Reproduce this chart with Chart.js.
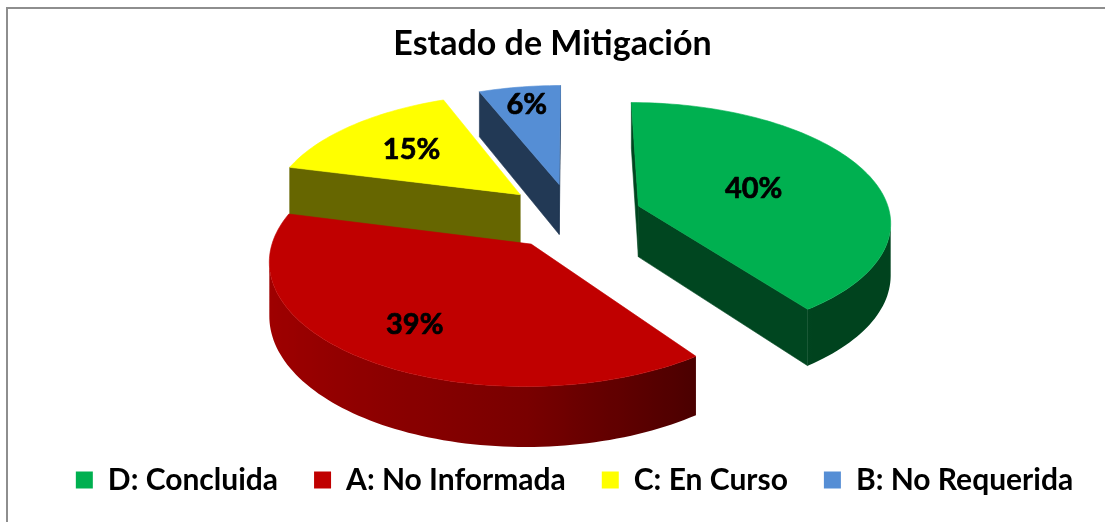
<!DOCTYPE html>
<html><head><meta charset="utf-8">
<script src="https://cdn.jsdelivr.net/npm/chart.js@4/dist/chart.umd.min.js"></script>
<style>html,body{margin:0;padding:0;background:#fff;overflow:hidden}#wrap{width:1105px;height:522px}</style>
</head><body><div id="wrap"><canvas id="c" width="1105" height="522"></canvas></div>
<script>
// ---- data ----
const categories = ['D: Concluida', 'A: No Informada', 'C: En Curso', 'B: No Requerida'];
const values = [40, 39, 15, 6];
const colors = ['#00B050', '#C00000', '#FFFF00', '#558ED5'];
const titleText = 'Estado de Mitigación';

// ---- styling ----
const FONT = 'Lato, "Open Sans", sans-serif';
const WEIGHT = 'bold';
const PIE_CX = 572, PIE_CY = 216;          // projected centre of the pie
const PIE_RX = 252, PIE_RY = 118;          // ellipse half axes (px) for radius = 1
const PIE_T = 51.5;                        // slice thickness
const PIE_PERSP = 8.33;                    // perspective distance (radius units)
const PIE_EXPLODE = 0.28;                  // explosion (radius units)
const LABEL_RADIUS = [0.5, 0.72, 0.63, 0.8];
const LEGEND_SHIFT = 22;

function shade(hex, b) {
  const n = parseInt(hex.slice(1), 16);
  const r = Math.round(((n >> 16) & 255) * b), g = Math.round(((n >> 8) & 255) * b), bl = Math.round((n & 255) * b);
  return `rgb(${r},${g},${bl})`;
}

const frame = {
  id: 'frame',
  beforeDraw(chart) {
    const c = chart.ctx;
    c.save();
    c.fillStyle = '#fff'; c.fillRect(0, 0, chart.width, chart.height);
    c.strokeStyle = '#8e8e8e'; c.lineWidth = 2;
    c.strokeRect(7, 8, chart.width + 40, chart.height + 40);
    c.restore();
    if (chart.legend && !chart.legend._shifted) {
      chart.legend.left += LEGEND_SHIFT; chart.legend.right += LEGEND_SHIFT; chart.legend._shifted = true;
    }
  },
  afterUpdate(chart) { if (chart.legend) chart.legend._shifted = false; }
};

const pie3d = {
  id: 'pie3d',
  beforeDatasetsDraw(chart) {
    const arcs = chart.getDatasetMeta(0).data;
    const ctx = chart.ctx;
    const r0 = arcs[0].outerRadius;
    const D = PIE_PERSP;
    const proj = (u, v, down) => {
      const f = D / (D - v);
      return [PIE_CX + PIE_RX * u * f, PIE_CY + PIE_RY * v * f + (down ? PIE_T * f : 0)];
    };
    const total = values.reduce((s, x) => s + x, 0);
    const slices = arcs.map((arc, i) => {
      const s = arc.startAngle, e = arc.endAngle, m = (s + e) / 2;
      const ex = PIE_EXPLODE * (arc.outerRadius / r0);
      const ox = ex * Math.cos(m), oy = ex * Math.sin(m);
      return { i, s, e, m, ox, oy, depth: oy + 0.5 * Math.sin(m) };
    });
    slices.sort((a, b) => a.depth - b.depth);

    const area = (pts) => { let s = 0; for (let j = 0; j < pts.length; j++) { const p = pts[j], q = pts[(j + 1) % pts.length]; s += p[0] * q[1] - q[0] * p[1]; } return s; };
    const path = (pts) => {
      ctx.beginPath(); ctx.moveTo(pts[0][0], pts[0][1]);
      for (let j = 1; j < pts.length; j++) ctx.lineTo(pts[j][0], pts[j][1]);
      ctx.closePath();
    };
    const poly = (pts, col) => { path(pts); ctx.fillStyle = col; ctx.fill(); ctx.strokeStyle = col; ctx.lineWidth = 0.6; ctx.stroke(); };
    const bright = (a) => {
      const nx = Math.cos(a);
      const b = nx < 0 ? 0.63 - 0.2 * nx : 0.63 - 0.41 * nx;
      return Math.max(0.38, Math.min(0.85, b));
    };

    ctx.save();
    for (const sl of slices) {
      const base = colors[sl.i];
      const n = Math.max(6, Math.ceil((sl.e - sl.s) / (Math.PI / 120)));
      const rim = [];
      for (let j = 0; j <= n; j++) { const a = sl.s + (sl.e - sl.s) * j / n; rim.push({ u: sl.ox + Math.cos(a), v: sl.oy + Math.sin(a), a }); }
      const apex = { u: sl.ox, v: sl.oy };
      const P = (p, d) => proj(p.u, p.v, d);
      // radial faces
      for (const [A, B] of [[apex, rim[0]], [rim[n], apex]]) {
        const q = [P(A, false), P(B, false), P(B, true), P(A, true)];
        if (area(q) < 0) poly(q, shade(base, 0.4));
      }
      // outer side: contiguous runs of front-facing strips, filled with one gradient
      let run = [];
      const flush = () => {
        if (run.length < 2) { run = []; return; }
        const topPts = run.map(p => P(p, false)), botPts = run.map(p => P(p, true)).reverse();
        const pts = topPts.concat(botPts);
        const xs = topPts.map(p => p[0]);
        const x0 = Math.min(...xs), x1 = Math.max(...xs);
        const g = ctx.createLinearGradient(x0, 0, x1, 0);
        run.forEach((p, j) => { const t = x1 > x0 ? (topPts[j][0] - x0) / (x1 - x0) : 0; g.addColorStop(Math.max(0, Math.min(1, t)), shade(base, bright(p.a))); });
        path(pts); ctx.fillStyle = g; ctx.fill();
        run = [];
      };
      for (let j = 0; j < n; j++) {
        const A = rim[j], B = rim[j + 1];
        const q = [P(A, false), P(B, false), P(B, true), P(A, true)];
        if (area(q) < 0) { if (!run.length) run.push(A); run.push(B); }
        else flush();
      }
      flush();
      // top face
      poly([P(apex, false)].concat(rim.map(p => P(p, false))), base);
    }
    // labels
    ctx.fillStyle = '#000'; ctx.strokeStyle = '#000'; ctx.lineWidth = 0.7; ctx.lineJoin = 'round';
    ctx.font = `${WEIGHT} 29px ${FONT}`;
    ctx.textAlign = 'center'; ctx.textBaseline = 'middle';
    for (const sl of slices) {
      const rr = LABEL_RADIUS[sl.i];
      const [x, y] = proj(sl.ox + rr * Math.cos(sl.m), sl.oy + rr * Math.sin(sl.m), false);
      const txt = Math.round(values[sl.i] / total * 100) + '%';
      ctx.fillText(txt, x, y);
      ctx.strokeText(txt, x, y);
    }
    ctx.restore();
    return false;
  }
};

function build() {
  new Chart(document.getElementById('c'), {
    type: 'pie',
    data: { labels: categories, datasets: [{ data: values, backgroundColor: colors, borderWidth: 0 }] },
    options: {
      responsive: false, animation: false,
      layout: { padding: { bottom: 17 } },
      plugins: {
        title: { display: true, text: titleText, color: '#000', font: { family: FONT, size: 34, weight: WEIGHT }, padding: { top: 24, bottom: 10 } },
        legend: { position: 'bottom', labels: { boxWidth: 17, boxHeight: 17, padding: 36, color: '#000', font: { family: FONT, size: 30, weight: WEIGHT } } },
        tooltip: { enabled: false }
      }
    },
    plugins: [frame, pie3d]
  });
}
Promise.all([document.fonts.load(`${WEIGHT} 34px Lato`), document.fonts.load(`${WEIGHT} 30px Lato`)]).then(build, build);
</script></body></html>
